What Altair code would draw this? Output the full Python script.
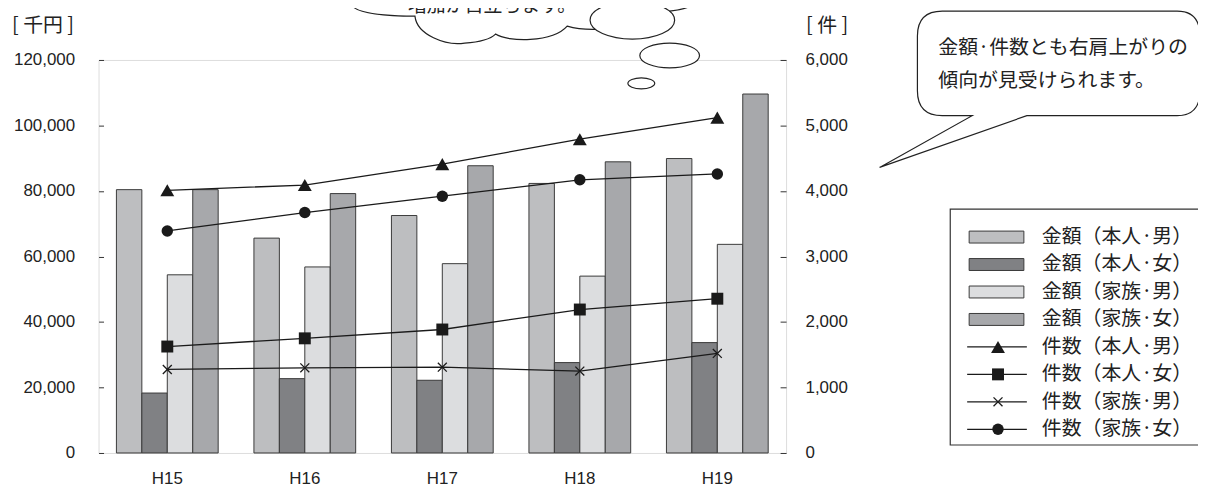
import altair as alt
import pandas as pd

# ---------------- data ----------------
years = ["H15", "H16", "H17", "H18", "H19"]
bar_series = ["金額（本人·男）", "金額（本人·女）", "金額（家族·男）", "金額（家族·女）"]
amt_honnin_m = [80400, 65600, 72500, 82300, 89900]
amt_honnin_f = [18300, 22700, 22200, 27600, 33700]
amt_kazoku_m = [54400, 56800, 57800, 54000, 63700]
amt_kazoku_f = [80400, 79200, 87700, 88900, 109600]

line_series = ["件数（本人·男）", "件数（本人·女）", "件数（家族·男）", "件数（家族·女）"]
cnt_honnin_m = [4010, 4090, 4410, 4790, 5120]
cnt_honnin_f = [1625, 1750, 1885, 2190, 2355]
cnt_kazoku_m = [1275, 1300, 1310, 1250, 1520]
cnt_kazoku_f = [3390, 3670, 3920, 4170, 4260]

amt_ticks = [0, 20000, 40000, 60000, 80000, 100000, 120000]
cnt_ticks = [0, 1000, 2000, 3000, 4000, 5000, 6000]
left_title = "[ 千円 ]"
right_title = "[ 件 ]"
bubble_lines = ["金額·件数とも右肩上がりの", "傾向が見受けられます。"]
thought_text = "増加が目立ちます。"

bar_colors = ["#bdbec0", "#808184", "#dcdddf", "#a7a8ab"]

# ---------------- tables ----------------
amts = [amt_honnin_m, amt_honnin_f, amt_kazoku_m, amt_kazoku_f]
cnts = [cnt_honnin_m, cnt_honnin_f, cnt_kazoku_m, cnt_kazoku_f]
bars_df = pd.DataFrame(
    [{"year": y, "series": s, "amount": v[i]} for s, v in zip(bar_series, amts) for i, y in enumerate(years)]
)
lines_df = pd.DataFrame(
    [{"year": y, "series": s, "count": v[i]} for s, v in zip(line_series, cnts) for i, y in enumerate(years)]
)

OX, OY = 99, 59          # page position of plot origin
W, H = 691, 395
TOTAL_W = 1196
JP = "Noto Sans CJK JP"
INK = "#1a1a1a"

XPATH = "M-1,-1L1,1M-1,1L1,-1"
marker_specs = [
    dict(shape="triangle-up", size=196, filled=True),
    dict(shape="square", size=144, filled=True),
    dict(shape=XPATH, size=81, filled=False),
    dict(shape="circle", size=132, filled=True),
]

x_enc = alt.X(
    "year:N", sort=years,
    scale=alt.Scale(paddingInner=0.26, paddingOuter=0.13),
    axis=alt.Axis(title=None, labelAngle=0, ticks=False, domain=False, labelPadding=18,
                  labelFontSize=17, labelColor="#222", labelFont="Liberation Sans"),
)

bars = alt.Chart(bars_df).mark_bar(stroke="#3a3a3a", strokeWidth=1).encode(
    x=x_enc,
    xOffset=alt.XOffset("series:N", sort=bar_series, scale=alt.Scale(paddingInner=0, paddingOuter=0)),
    y=alt.Y("amount:Q", scale=alt.Scale(domain=[0, 120000], nice=False),
            axis=alt.Axis(orient="left", values=amt_ticks, format=",d", title=None, offset=-5,
                          tickSize=5, tickColor="#333", domain=False, grid=False, labelPadding=24,
                          labelFontSize=17, labelColor="#222", labelFont="Liberation Sans")),
    fill=alt.Fill("series:N", scale=alt.Scale(domain=bar_series, range=bar_colors), legend=None),
)

y_cnt = alt.Y("count:Q", scale=alt.Scale(domain=[0, 6000], nice=False),
              axis=alt.Axis(orient="right", values=cnt_ticks, format=",d", title=None, offset=-6,
                            tickSize=6, tickColor="#333", domain=False, grid=False, labelPadding=19,
                            labelFontSize=17, labelColor="#222", labelFont="Liberation Sans"))

cnt_layers = [
    alt.Chart(lines_df).mark_line(color=INK, strokeWidth=1.3).encode(x=x_enc, y=y_cnt, detail="series:N")
]
for s, spec in zip(line_series, marker_specs):
    sub = lines_df[lines_df.series == s]
    if spec["filled"]:
        m = alt.Chart(sub).mark_point(shape=spec["shape"], size=spec["size"], filled=True,
                                      fill=INK, opacity=1, strokeWidth=0)
    else:
        m = alt.Chart(sub).mark_point(shape=spec["shape"], size=spec["size"], filled=False,
                                      stroke=INK, strokeWidth=1.3, opacity=1)
    cnt_layers.append(m.encode(x=x_enc, y=y_cnt))
counts = alt.layer(*cnt_layers)

# ---------------- decorations ----------------
one = pd.DataFrame({"a": [0]})


def shape_path(pts, ax, ay):
    """pts: list of commands and page-coordinate pairs; returns path relative to anchor."""
    out = []
    for p in pts:
        if isinstance(p, str):
            out.append(p)
        else:
            out.append(f"{p[0]-ax:.1f},{p[1]-ay:.1f}")
    return " ".join(out)


def ellipse_path(rx, ry):
    k = 0.5523
    return (f"M{-rx},0 C{-rx},{-ry*k} {-rx*k},{-ry} 0,{-ry} C{rx*k},{-ry} {rx},{-ry*k} {rx},0 "
            f"C{rx},{ry*k} {rx*k},{ry} 0,{ry} C{-rx*k},{ry} {-rx},{ry*k} {-rx},0 Z")


def symbol(path, px, py, sw=1.2):
    return alt.Chart(one).mark_point(shape=path, size=4, filled=False, fill="white", stroke="#222",
                                     strokeWidth=sw, opacity=1, fillOpacity=1).encode(
        x=alt.value(px - OX), y=alt.value(py - OY))


def label(txt, px, py, size=19, align="left", font=JP, baseline="middle"):
    return alt.Chart(one).mark_text(text=txt, align=align, baseline=baseline, fontSize=size,
                                    font=font, color="#222").encode(
        x=alt.value(px - OX), y=alt.value(py - OY))


# thought cloud
CAX, CAY = 530, 0
cloud = shape_path(["M", (352, -30), "L", (352, 0),
                    "C", (352, 8), (365, 15), (417, 15),
                    "C", (419, 34), (448, 45), (467, 42),
                    "C", (483, 41), (494, 37), (498, 33),
                    "C", (510, 41), (555, 42), (570, 25),
                    "C", (580, 28), (590, 29), (605, 28),
                    "L", (660, 20), "L", (673, 10),
                    "C", (690, 8), (702, 4), (712, -10),
                    "L", (712, -30), "Z"], CAX, CAY)

# speech bubble
SAX, SAY = 1000, 100
speech = shape_path(["M", (947, 10), "L", (1183, 10), "Q", (1206, 10), (1206, 35),
                     "L", (1206, 90), "Q", (1206, 115), (1183, 115),
                     "L", (1032, 115), "L", (884, 167), "L", (977, 115), "L", (947, 115),
                     "Q", (922, 115), (922, 90), "L", (922, 35), "Q", (922, 10), (947, 10), "Z"],
                    SAX, SAY)

decos = [
    symbol(cloud, CAX, CAY),
    label(thought_text, 410, 11, size=19, baseline="alphabetic"),
    symbol(ellipse_path(42.5, 19), 635.5, 19),
    symbol(ellipse_path(30, 12.5), 673, 54.5),
    symbol(ellipse_path(13.5, 5.5), 644.5, 82.5),
    symbol(speech, SAX, SAY),
    label(bubble_lines[0], 943, 47, size=20),
    label(bubble_lines[1], 943, 80, size=20),
    label(left_title, 12, 25, size=20),
    label(right_title, 810, 25, size=20),
]

# ---------------- manual legend ----------------
legend_box = alt.Chart(one).mark_rect(fill="white", stroke="#333", strokeWidth=1.2).encode(
    x=alt.value(955 - OX), x2=alt.value(1225 - OX), y=alt.value(209 - OY), y2=alt.value(446 - OY))

row_y0, row_dy = 237 - OY, 27.6
leg_bar_df = pd.DataFrame({"series": bar_series,
                           "yc": [row_y0 + i * row_dy for i in range(4)]})
leg_bar_df["yt"] = leg_bar_df.yc - 6
leg_bar_df["yb"] = leg_bar_df.yc + 6
leg_line_df = pd.DataFrame({"series": line_series,
                            "yc": [row_y0 + (i + 4) * row_dy for i in range(4)]})

leg_swatch = alt.Chart(leg_bar_df).mark_rect(stroke="#3a3a3a", strokeWidth=1).encode(
    x=alt.value(974 - OX), x2=alt.value(1029 - OX),
    y=alt.Y("yt:Q", scale=None, axis=None), y2="yb:Q",
    fill=alt.Fill("series:N", scale=alt.Scale(domain=bar_series, range=bar_colors), legend=None),
)
leg_rule = alt.Chart(leg_line_df).mark_rule(color=INK, strokeWidth=1.3).encode(
    x=alt.value(972 - OX), x2=alt.value(1032 - OX), y=alt.Y("yc:Q", scale=None, axis=None))
leg_marks = []
for s, spec in zip(line_series, marker_specs):
    sub = leg_line_df[leg_line_df.series == s]
    if spec["filled"]:
        m = alt.Chart(sub).mark_point(shape=spec["shape"], size=spec["size"], filled=True,
                                      fill=INK, opacity=1, strokeWidth=0)
    else:
        m = alt.Chart(sub).mark_point(shape=spec["shape"], size=spec["size"], filled=False,
                                      stroke=INK, strokeWidth=1.3, opacity=1)
    leg_marks.append(m.encode(x=alt.value(1003 - OX), y=alt.Y("yc:Q", scale=None, axis=None)))

leg_text_df = pd.concat([leg_bar_df[["series", "yc"]], leg_line_df[["series", "yc"]]])
leg_text = alt.Chart(leg_text_df).mark_text(align="left", baseline="middle", fontSize=20, font=JP,
                                            color="#222").encode(
    x=alt.value(1047 - OX), y=alt.Y("yc:Q", scale=None, axis=None), text="series:N")

chart = alt.layer(
    bars, counts, *decos, legend_box, leg_swatch, leg_rule, *leg_marks, leg_text
).resolve_scale(y="independent").properties(
    width=W, height=H,
    padding={"left": OX - 8, "top": OY - 8, "right": TOTAL_W - (OX - 8) - W, "bottom": 37},
    autosize=alt.AutoSizeParams(type="none"),
).configure_view(stroke="#3a3a3a", strokeWidth=1.3).configure(font="Liberation Sans", background="white")

chart.save("out.html", embed_options={"renderer": "svg", "actions": False})
